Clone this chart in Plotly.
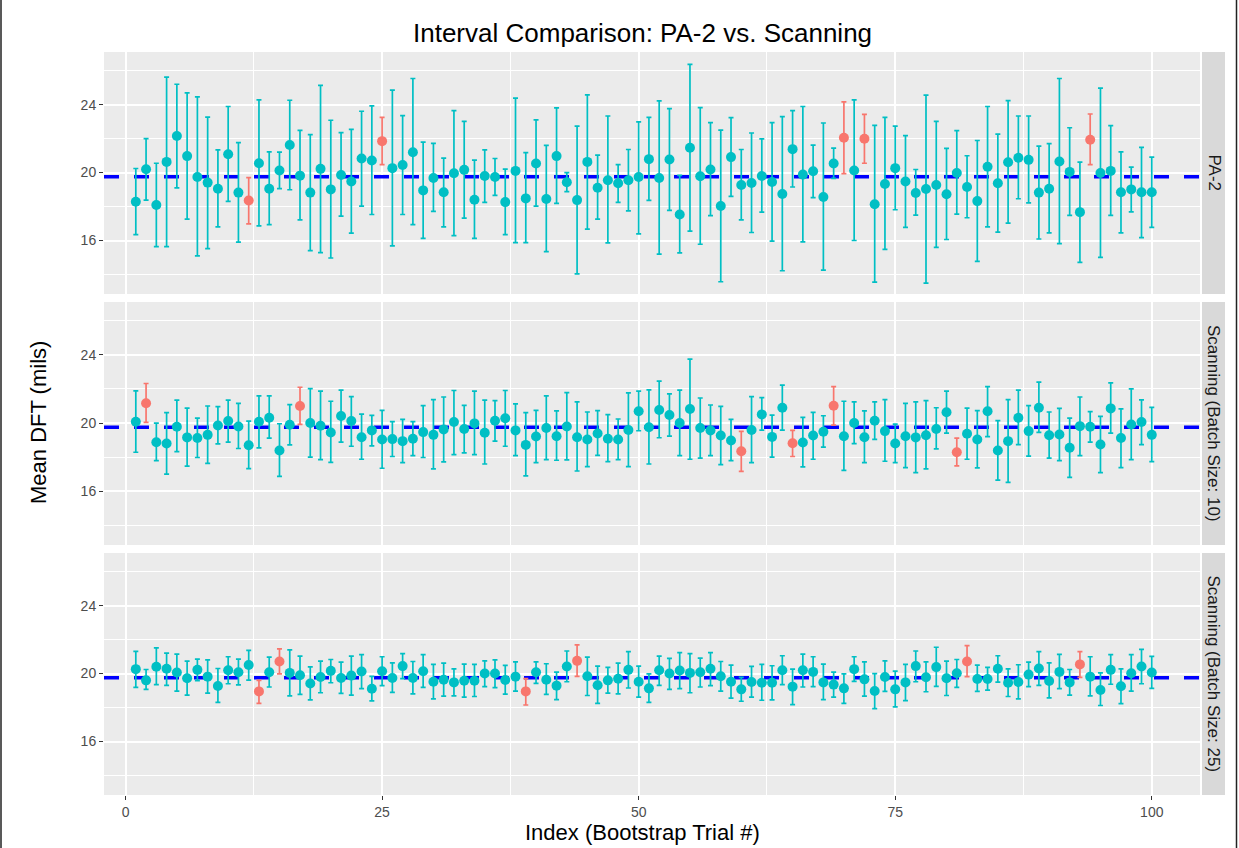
import plotly.graph_objects as go

W, H = 1239, 848

# ---------------- data ----------------
index = list(range(1, 101))
MEAN_LINE = 19.75

facet_labels = ["PA-2", "Scanning (Batch Size: 10)", "Scanning (Batch Size: 25)"]

means_pa2 = [18.28, 20.2, 18.09, 20.63, 22.15, 20.97, 19.74, 19.41, 19.05, 21.08,
             18.82, 18.36, 20.55, 19.05, 20.12, 21.62, 19.82, 18.82, 20.22, 19.01,
             19.86, 19.47, 20.83, 20.71, 21.85, 20.26, 20.45, 21.2, 18.95, 19.68,
             18.84, 19.96, 20.16, 18.4, 19.8, 19.74, 18.26, 20.1, 18.48, 20.53,
             18.44, 20.97, 19.43, 18.38, 20.63, 19.11, 19.55, 19.37, 19.55, 19.74,
             20.79, 19.68, 20.77, 17.53, 21.46, 19.78, 20.18, 18.03, 20.91, 19.27,
             19.39, 19.8, 19.45, 18.74, 21.38, 19.88, 20.08, 18.56, 20.53, 22.05,
             20.12, 21.99, 18.13, 19.33, 20.26, 19.47, 18.8, 19.03, 19.27, 18.72,
             19.98, 19.15, 18.32, 20.34, 19.37, 20.61, 20.87, 20.75, 18.82, 19.05,
             20.65, 20.04, 17.67, 21.93, 19.98, 20.1, 18.84, 19.01, 18.84, 18.84]
upper_pa2 = [20.24, 22.0, 20.55, 25.62, 25.2, 24.69, 24.46, 23.27, 21.34, 23.89,
             21.76, 19.7, 24.28, 21.22, 21.2, 24.26, 22.49, 22.23, 25.13, 23.08,
             22.35, 22.54, 23.61, 23.93, 23.25, 24.85, 23.35, 25.54, 21.79, 21.72,
             20.85, 23.65, 23.02, 20.73, 21.34, 20.83, 20.2, 24.38, 21.18, 23.1,
             21.6, 23.81, 20.0, 22.74, 24.58, 21.03, 23.33, 20.47, 21.36, 22.98,
             23.25, 24.22, 23.77, 19.84, 26.37, 23.83, 22.94, 22.5, 23.23, 21.36,
             22.33, 21.99, 22.94, 23.29, 23.65, 23.89, 21.62, 22.92, 21.44, 24.16,
             24.28, 23.43, 22.78, 23.25, 22.74, 22.17, 20.18, 24.56, 23.02, 21.42,
             22.47, 20.99, 21.89, 23.89, 22.27, 24.24, 23.33, 23.33, 21.56, 21.7,
             25.54, 22.64, 20.61, 23.45, 24.97, 22.76, 21.22, 20.32, 21.48, 20.91]
lower_pa2 = [16.35, 18.38, 15.64, 15.64, 19.1, 17.26, 15.09, 15.52, 16.8, 18.3,
             15.9, 16.98, 16.86, 16.94, 19.05, 18.99, 17.22, 15.4, 15.29, 14.97,
             17.44, 16.43, 18.03, 17.53, 20.47, 15.68, 17.53, 16.94, 16.13, 17.71,
             16.8, 16.29, 17.32, 16.13, 18.24, 18.66, 16.35, 15.88, 15.88, 18.03,
             15.35, 18.19, 18.88, 14.04, 16.67, 17.26, 15.86, 18.24, 17.75, 16.39,
             18.36, 15.2, 17.77, 15.27, 16.55, 15.78, 17.46, 13.57, 18.6, 17.22,
             16.47, 17.67, 15.96, 14.22, 19.15, 15.92, 18.52, 14.26, 19.66, 19.94,
             16.0, 20.55, 13.55, 15.48, 17.81, 16.77, 17.5, 13.49, 15.6, 16.06,
             17.55, 17.34, 14.77, 16.8, 16.49, 17.02, 18.46, 18.21, 16.09, 16.45,
             15.82, 17.48, 14.71, 20.47, 15.01, 17.48, 16.45, 17.69, 16.17, 16.77]

means_b10 = [20.08, 21.16, 18.88, 18.8, 19.78, 19.16, 19.12, 19.31, 19.86, 20.12,
             19.8, 18.7, 20.08, 20.31, 18.39, 19.9, 21.0, 20.0, 19.84, 19.45,
             20.41, 20.12, 19.17, 19.57, 19.04, 19.06, 18.94, 19.08, 19.47, 19.31,
             19.63, 20.06, 19.65, 19.98, 19.43, 20.14, 20.28, 19.57, 18.72, 19.21,
             19.71, 19.23, 19.8, 19.17, 19.04, 19.39, 19.08, 19.04, 19.59, 20.69,
             19.76, 20.77, 20.47, 20.0, 20.83, 19.71, 19.57, 19.27, 18.98, 18.35,
             19.59, 20.51, 19.19, 20.9, 18.82, 18.86, 19.27, 19.49, 21.02, 19.23,
             20.0, 19.17, 20.14, 19.53, 18.8, 19.23, 19.16, 19.29, 19.65, 20.63,
             18.29, 19.37, 19.04, 20.69, 18.39, 18.94, 20.31, 19.53, 20.9, 19.29,
             19.33, 18.55, 19.82, 19.78, 18.74, 20.86, 19.12, 19.92, 20.06, 19.31]
upper_b10 = [21.89, 22.32, 20.0, 20.61, 21.34, 20.88, 20.29, 21.0, 20.96, 21.34,
             21.16, 20.12, 21.59, 21.59, 19.96, 21.08, 22.1, 22.02, 21.87, 21.28,
             21.93, 21.55, 20.53, 20.45, 20.75, 20.08, 20.22, 20.08, 21.02, 21.38,
             21.53, 21.91, 21.04, 21.87, 21.34, 21.32, 21.91, 21.12, 20.61, 20.75,
             21.59, 20.71, 21.79, 21.24, 20.65, 20.73, 20.49, 20.24, 21.77, 21.87,
             21.95, 22.46, 21.71, 21.93, 23.75, 21.47, 21.06, 20.98, 20.22, 19.51,
             21.55, 21.49, 20.47, 22.22, 19.57, 20.33, 20.63, 20.43, 22.14, 21.28,
             21.24, 20.71, 21.24, 21.38, 19.94, 21.16, 21.24, 21.32, 20.9, 21.87,
             19.12, 20.88, 20.73, 22.14, 20.14, 21.38, 21.93, 21.02, 22.4, 20.65,
             20.86, 20.29, 21.53, 20.67, 20.39, 22.36, 20.83, 22.0, 21.36, 20.92]
lower_b10 = [18.29, 20.04, 17.8, 17.01, 18.33, 17.47, 17.98, 17.64, 18.78, 18.88,
             18.51, 17.33, 18.55, 19.12, 16.88, 18.72, 19.92, 18.0, 17.86, 17.7,
             18.88, 18.64, 17.88, 18.66, 17.35, 18.04, 17.68, 18.09, 17.98, 17.31,
             17.72, 18.15, 18.25, 18.15, 17.6, 18.94, 18.64, 18.09, 16.9, 17.68,
             17.86, 17.82, 17.84, 17.19, 17.45, 18.11, 17.74, 17.86, 17.45, 19.55,
             17.6, 19.14, 19.23, 18.09, 17.88, 17.94, 18.09, 17.56, 17.8, 17.17,
             17.68, 19.59, 18.0, 19.59, 18.04, 17.43, 17.88, 18.59, 19.88, 17.23,
             18.8, 17.68, 19.04, 17.76, 17.68, 17.39, 17.09, 17.31, 18.49, 19.41,
             17.49, 17.88, 17.37, 19.21, 16.66, 16.52, 18.74, 18.06, 19.45, 17.94,
             17.8, 16.82, 18.09, 18.88, 17.09, 19.41, 17.39, 17.86, 18.74, 17.74]

means_b25 = [20.26, 19.6, 20.4, 20.28, 20.06, 19.72, 20.22, 19.82, 19.27, 20.2,
             20.08, 20.5, 18.95, 20.08, 20.71, 20.04, 19.9, 19.42, 19.8, 20.16,
             19.74, 19.88, 20.12, 19.11, 20.14, 19.74, 20.44, 19.74, 20.14, 19.52,
             19.64, 19.48, 19.58, 19.58, 20.0, 20.0, 19.62, 19.82, 18.95, 20.08,
             19.64, 19.29, 20.42, 20.75, 19.84, 19.31, 19.6, 19.7, 20.22, 19.52,
             19.13, 20.2, 20.0, 20.18, 20.04, 20.08, 20.28, 19.84, 19.52, 19.07,
             19.5, 19.46, 19.46, 20.2, 19.23, 20.2, 20.1, 19.48, 19.35, 19.13,
             20.26, 19.66, 18.97, 19.8, 19.07, 19.48, 20.44, 19.78, 20.38, 19.72,
             20.02, 20.71, 19.68, 19.68, 20.28, 19.46, 19.5, 19.94, 20.3, 19.56,
             20.1, 19.48, 20.54, 19.82, 19.03, 20.22, 19.25, 20.02, 20.42, 20.06]
upper_b25 = [21.31, 20.24, 21.51, 21.21, 21.15, 20.73, 20.85, 20.81, 20.3, 20.99,
             20.85, 21.37, 19.6, 20.97, 21.45, 21.39, 21.03, 20.4, 20.73, 20.83,
             20.67, 21.03, 21.11, 19.84, 20.99, 20.63, 21.17, 20.71, 21.11, 20.54,
             20.62, 20.28, 20.56, 20.54, 20.75, 20.81, 20.48, 20.69, 19.7, 20.69,
             20.58, 20.08, 21.33, 21.69, 20.97, 20.44, 20.36, 20.62, 21.29, 20.44,
             19.98, 21.03, 20.89, 21.23, 21.17, 20.91, 21.23, 20.71, 20.5, 19.78,
             20.42, 20.54, 20.46, 21.05, 20.26, 21.15, 20.99, 20.56, 20.08, 19.98,
             20.99, 20.69, 20.0, 20.75, 20.14, 20.54, 21.33, 20.69, 21.55, 20.73,
             20.83, 21.65, 20.5, 20.36, 21.05, 20.28, 20.52, 20.67, 21.29, 20.63,
             21.13, 20.24, 21.29, 20.99, 20.04, 21.11, 20.28, 21.11, 21.43, 21.01]
lower_b25 = [19.19, 19.07, 19.35, 19.31, 18.97, 18.73, 19.58, 18.85, 18.31, 19.4,
             19.33, 19.62, 18.25, 19.21, 19.98, 18.69, 18.77, 18.45, 18.87, 19.46,
             18.83, 18.73, 19.11, 18.39, 19.29, 18.89, 19.7, 18.81, 19.19, 18.51,
             18.67, 18.69, 18.61, 18.65, 19.23, 19.17, 18.79, 18.97, 18.15, 19.42,
             18.77, 18.47, 19.52, 19.84, 18.71, 18.25, 18.85, 18.81, 19.15, 18.61,
             18.31, 19.31, 19.07, 19.11, 18.87, 19.21, 19.29, 18.97, 18.55, 18.37,
             18.61, 18.43, 18.45, 19.35, 18.17, 19.21, 19.23, 18.47, 18.61, 18.25,
             19.54, 18.67, 17.94, 18.95, 18.04, 18.41, 19.52, 18.93, 19.25, 18.71,
             19.19, 19.82, 18.95, 19.03, 19.5, 18.65, 18.51, 19.23, 19.31, 18.57,
             19.11, 18.73, 19.78, 18.69, 18.12, 19.37, 18.23, 18.97, 19.4, 19.13]

x_ticks = [0, 25, 50, 75, 100]
x_minor = [12.5, 37.5, 62.5, 87.5]
y_ticks = [16, 20, 24]
y_minor = [14, 18, 22, 26]

# ---------------- styling ----------------
TEAL = "#00BFC4"
RED = "#F8766D"
FONT = "Arial, Liberation Sans, sans-serif"
X_RANGE = [-2.1, 104.7]
Y_RANGE = [12.85, 27.1]

px_x0, px_x1 = 104, 1200
panels_px = [(52, 294), (302, 545), (553, 795)]

def ydom(top, bot):
    return [1 - bot / H, 1 - top / H]

fig = go.Figure()
panels = [(means_pa2, lower_pa2, upper_pa2),
          (means_b10, lower_b10, upper_b10),
          (means_b25, lower_b25, upper_b25)]

layout_axes = {}
shapes = []
annotations = []

for p, (m, lo, up) in enumerate(panels):
    n = p + 1
    xa = "x" if n == 1 else f"x{n}"
    ya = "y" if n == 1 else f"y{n}"
    # dashed reference line spanning the whole panel (drawn before the points)
    fig.add_trace(go.Scatter(
        x=X_RANGE, y=[MEAN_LINE, MEAN_LINE], mode="lines",
        line=dict(color="#0000FF", width=3.5, dash="15px,15px"),
        xaxis=xa, yaxis=ya, showlegend=False, hoverinfo="skip"))
    for col, keep in ((TEAL, False), (RED, True)):
        sel = [i for i in range(len(index))
               if ((lo[i] > MEAN_LINE) or (up[i] < MEAN_LINE)) == keep]
        fig.add_trace(go.Scatter(
            x=[index[i] for i in sel],
            y=[m[i] for i in sel],
            mode="markers",
            marker=dict(color=col, size=10, line=dict(width=0)),
            error_y=dict(type="data", symmetric=False,
                         array=[up[i] - m[i] for i in sel],
                         arrayminus=[m[i] - lo[i] for i in sel],
                         color=col, thickness=1.7, width=2.5),
            xaxis=xa, yaxis=ya, showlegend=False, hoverinfo="skip"))
    top, bot = panels_px[p]
    xkey = "xaxis" if n == 1 else f"xaxis{n}"
    ykey = "yaxis" if n == 1 else f"yaxis{n}"
    layout_axes[xkey] = dict(
        domain=[px_x0 / W, px_x1 / W], anchor=ya, range=X_RANGE,
        tickvals=x_ticks, ticktext=[str(v) for v in x_ticks],
        showticklabels=(n == 3), ticks="outside" if n == 3 else "",
        ticklen=4, tickwidth=1.2, tickcolor="#333333",
        tickfont=dict(family=FONT, size=14, color="#4D4D4D"),
        showgrid=True, gridcolor="white", gridwidth=1.6,
        minor=dict(tickvals=x_minor, showgrid=True, gridcolor="white", gridwidth=0.8, ticks=""),
        zeroline=False, showline=False, fixedrange=True)
    layout_axes[ykey] = dict(
        domain=ydom(top, bot), anchor=xa, range=Y_RANGE,
        tickvals=y_ticks, ticktext=[str(v) for v in y_ticks],
        ticks="outside", ticklen=4, tickwidth=1.2, tickcolor="#333333",
        tickfont=dict(family=FONT, size=14, color="#4D4D4D"),
        showgrid=True, gridcolor="white", gridwidth=1.6,
        minor=dict(tickvals=y_minor, showgrid=True, gridcolor="white", gridwidth=0.8, ticks=""),
        zeroline=False, showline=False, fixedrange=True)
    # strip
    shapes.append(dict(type="rect", xref="paper", yref="paper",
                       x0=1202 / W, x1=1225 / W, y0=1 - bot / H, y1=1 - top / H,
                       fillcolor="#D9D9D9", line=dict(width=0), layer="below"))
    annotations.append(dict(text=facet_labels[p], xref="paper", yref="paper",
                            x=1213.5 / W, y=1 - (top + bot) / 2 / H, showarrow=False,
                            textangle=90, font=dict(family=FONT, size=17, color="#1A1A1A"),
                            xanchor="center", yanchor="middle"))

# outer frame lines of the picture (left and right edges)
shapes.append(dict(type="line", xref="paper", yref="paper", x0=1 / W, x1=1 / W,
                   y0=0, y1=1, line=dict(color="#222222", width=1.5), layer="above"))
shapes.append(dict(type="line", xref="paper", yref="paper", x0=1236.5 / W, x1=1236.5 / W,
                   y0=0, y1=1, line=dict(color="#222222", width=1.5), layer="above"))

annotations += [
    dict(text="Interval Comparison: PA-2 vs. Scanning", xref="paper", yref="paper",
         x=642 / W, y=1 - 33 / H, showarrow=False, xanchor="center", yanchor="middle",
         font=dict(family=FONT, size=26, color="black")),
    dict(text="Mean DFT (mils)", xref="paper", yref="paper",
         x=38 / W, y=1 - 423 / H, showarrow=False, xanchor="center", yanchor="middle",
         textangle=-90, font=dict(family=FONT, size=22, color="black")),
    dict(text="Index (Bootstrap Trial #)", xref="paper", yref="paper",
         x=642 / W, y=1 - 832 / H, showarrow=False, xanchor="center", yanchor="middle",
         font=dict(family=FONT, size=22, color="black")),
]

fig.update_layout(
    width=W, height=H, margin=dict(l=0, r=0, t=0, b=0),
    paper_bgcolor="white", plot_bgcolor="#EBEBEB",
    shapes=shapes, annotations=annotations, showlegend=False,
    **layout_axes)

fig.write_html("out.html")
